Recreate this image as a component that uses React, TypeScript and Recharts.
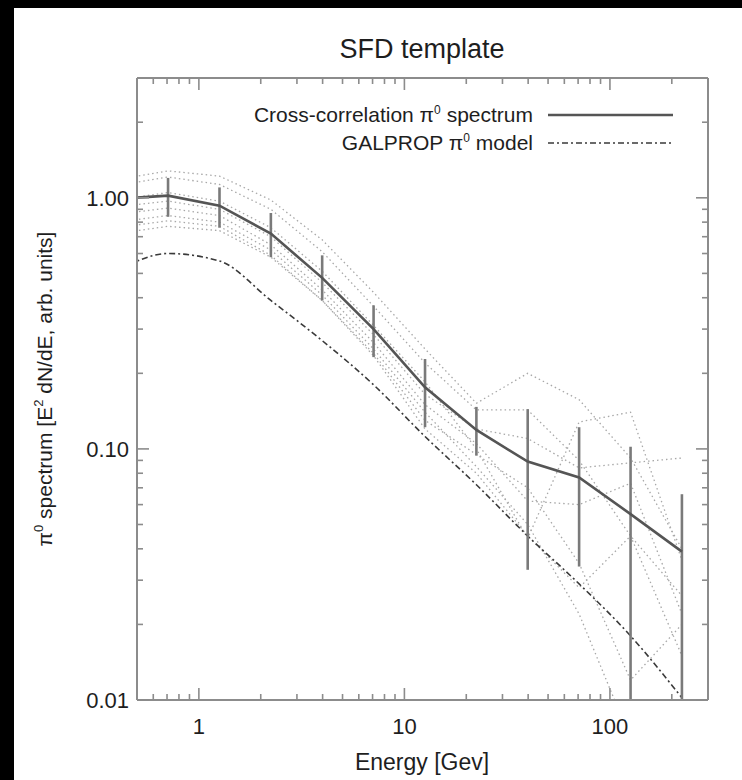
import React from 'react';
import { LineChart, Line, XAxis, YAxis, ErrorBar } from 'recharts';

// ---- data (energy in GeV, log-spaced bins) ----
const energies = [0.398, 0.708, 1.26, 2.24, 3.98, 7.08, 12.6, 22.4, 39.8, 70.8, 126, 224];
const crossCorrelation = [0.99, 1.02, 0.93, 0.72, 0.48, 0.3, 0.176, 0.119, 0.089, 0.077, 0.055, 0.039];
const crossLowBound = [0.99, 0.84, 0.76, 0.58, 0.39, 0.232, 0.122, 0.094, 0.033, 0.034, 0.01, 0.01];
const crossHighBound = [0.99, 1.2, 1.1, 0.87, 0.59, 0.373, 0.228, 0.147, 0.144, 0.122, 0.102, 0.066];
const galpropModel = [0.51, 0.6, 0.56, 0.39, 0.27, 0.18, 0.112, 0.072, 0.045, 0.029, 0.018, 0.0102];

const region1 = [1.18, 1.28, 1.22, 0.98, 0.68, 0.42, 0.25, 0.152, 0.2, 0.157, 0.092, 0.04];
const region2 = [1.12, 1.21, 1.13, 0.9, 0.61, 0.37, 0.22, 0.143, 0.143, 0.09, 0.045, 0.026];
const region3 = [0.98, 1.05, 0.97, 0.76, 0.51, 0.31, 0.185, 0.1, 0.044, 0.128, 0.14, 0.036];
const region4 = [0.92, 0.97, 0.9, 0.7, 0.46, 0.285, 0.165, 0.12, 0.11, 0.084, 0.088, 0.092];
const region5 = [0.86, 0.91, 0.85, 0.65, 0.43, 0.265, 0.15, 0.105, 0.062, 0.06, 0.073, 0.022];
const region6 = [0.8, 0.85, 0.8, 0.62, 0.41, 0.25, 0.14, 0.085, 0.05, 0.022, 0.007, 0.006];
const region7 = [0.76, 0.81, 0.77, 0.59, 0.39, 0.24, 0.13, 0.095, 0.07, 0.035, 0.012, 0.02];
const region8 = [0.72, 0.77, 0.74, 0.58, 0.39, 0.235, 0.12, 0.08, 0.045, 0.028, 0.045, 0.015];
const regions = [region1, region2, region3, region4, region5, region6, region7, region8];

const xMajorTicks = [1, 10, 100];
const xMajorLabels = ['1', '10', '100'];
const xMinorTicks = [0.6, 0.7, 0.8, 0.9, 2, 3, 4, 5, 6, 7, 8, 9, 20, 30, 40, 50, 60, 70, 80, 90, 200];
const yMajorTicks = [0.01, 0.1, 1];
const yMajorLabels = ['0.01', '0.10', '1.00'];
const yMinorTicks = [0.02, 0.03, 0.04, 0.05, 0.06, 0.07, 0.08, 0.09, 0.2, 0.3, 0.4, 0.5, 0.6, 0.7, 0.8, 0.9, 2];

const xTicks = [...xMajorTicks, ...xMinorTicks].sort((a, b) => a - b);
const yTicks = [...yMajorTicks, ...yMinorTicks].sort((a, b) => a - b);

const data = energies.map((e, i) => {
  const row: Record<string, any> = {
    energy: e,
    cross: crossCorrelation[i],
    err: [crossCorrelation[i] - crossLowBound[i], crossHighBound[i] - crossCorrelation[i]],
    galprop: galpropModel[i],
  };
  regions.forEach((r, k) => {
    row['r' + k] = r[i];
  });
  return row;
});

// ---- styles ----
const FONT = '"Liberation Sans", Arial, Helvetica, sans-serif';
const AXIS = '#8c8c8c';
const TEXT = '#1e1e1e';
const MAJOR_LEN = 12;
const MINOR_LEN = 6;

const BottomTick = (p: any) => {
  const v = p.payload.value;
  const idx = xMajorTicks.indexOf(v);
  const len = idx >= 0 ? MAJOR_LEN : MINOR_LEN;
  return (
    <g>
      <line x1={p.x} x2={p.x} y1={p.y} y2={p.y - len} stroke={AXIS} strokeWidth={1.6} />
      {idx >= 0 && (
        <text x={p.x} y={p.y + 34} textAnchor="middle" fontFamily={FONT} fontSize={22} fill={TEXT}>
          {xMajorLabels[idx]}
        </text>
      )}
    </g>
  );
};

const TopTick = (p: any) => {
  const v = p.payload.value;
  const len = xMajorTicks.indexOf(v) >= 0 ? MAJOR_LEN : MINOR_LEN;
  return <line x1={p.x} x2={p.x} y1={p.y} y2={p.y + len} stroke={AXIS} strokeWidth={1.6} />;
};

const LeftTick = (p: any) => {
  const v = p.payload.value;
  const idx = yMajorTicks.indexOf(v);
  const len = idx >= 0 ? MAJOR_LEN : MINOR_LEN;
  return (
    <g>
      <line x1={p.x} x2={p.x + len} y1={p.y} y2={p.y} stroke={AXIS} strokeWidth={1.6} />
      {idx >= 0 && (
        <text x={p.x - 8} y={p.y + 8} textAnchor="end" fontFamily={FONT} fontSize={22} fill={TEXT}>
          {yMajorLabels[idx]}
        </text>
      )}
    </g>
  );
};

const RightTick = (p: any) => {
  const v = p.payload.value;
  const len = yMajorTicks.indexOf(v) >= 0 ? MAJOR_LEN : MINOR_LEN;
  return <line x1={p.x} x2={p.x - len} y1={p.y} y2={p.y} stroke={AXIS} strokeWidth={1.6} />;
};

const axisLine = { stroke: AXIS, strokeWidth: 2 };

export default function App() {
  return (
    <div style={{ position: 'relative', width: 742, height: 780, background: '#000', overflow: 'hidden' }}>
      <style>{'body{margin:0;}'}</style>
      <div style={{ position: 'absolute', left: 14, top: 8, right: 0, bottom: 0, background: '#fff' }} />
      <div style={{ position: 'absolute', left: 0, top: 0 }}>
        <LineChart width={742} height={780} data={data} margin={{ top: 77, right: 33, bottom: 79, left: 0 }}>
          <XAxis
            xAxisId="b"
            orientation="bottom"
            dataKey="energy"
            type="number"
            scale="log"
            domain={[0.5, 300]}
            allowDataOverflow
            ticks={xTicks}
            interval={0}
            tickLine={false}
            tickSize={0}
            tickMargin={0}
            height={1}
            axisLine={axisLine}
            tick={(p: any) => <BottomTick {...p} />}
          />
          <XAxis
            xAxisId="t"
            orientation="top"
            dataKey="energy"
            type="number"
            scale="log"
            domain={[0.5, 300]}
            allowDataOverflow
            ticks={xTicks}
            interval={0}
            tickLine={false}
            tickSize={0}
            tickMargin={0}
            height={1}
            axisLine={axisLine}
            tick={(p: any) => <TopTick {...p} />}
          />
          <YAxis
            yAxisId="l"
            type="number"
            scale="log"
            domain={[0.01, 3]}
            allowDataOverflow
            ticks={yTicks}
            interval={0}
            tickLine={false}
            tickSize={0}
            tickMargin={0}
            width={137}
            axisLine={axisLine}
            tick={(p: any) => <LeftTick {...p} />}
          />
          <YAxis
            yAxisId="r"
            orientation="right"
            type="number"
            scale="log"
            domain={[0.01, 3]}
            allowDataOverflow
            ticks={yTicks}
            interval={0}
            tickLine={false}
            tickSize={0}
            tickMargin={0}
            width={1}
            axisLine={axisLine}
            tick={(p: any) => <RightTick {...p} />}
          />
          {regions.map((_, k) => (
            <Line
              key={'r' + k}
              xAxisId="b"
              yAxisId="l"
              type="linear"
              dataKey={'r' + k}
              stroke="#a8a8a8"
              strokeWidth={1.3}
              strokeDasharray="1.5 3"
              dot={false}
              activeDot={false}
              isAnimationActive={false}
            />
          ))}
          <Line
            xAxisId="b"
            yAxisId="l"
            type="monotone"
            dataKey="galprop"
            stroke="#3a3a3a"
            strokeWidth={1.6}
            strokeDasharray="6 3 2 3"
            dot={false}
            activeDot={false}
            isAnimationActive={false}
          />
          <Line
            xAxisId="b"
            yAxisId="l"
            type="linear"
            dataKey="cross"
            stroke="#555"
            strokeWidth={2.6}
            dot={false}
            activeDot={false}
            isAnimationActive={false}
          >
            <ErrorBar dataKey="err" width={0} stroke="#7a7a7a" strokeWidth={2.6} direction="y" />
          </Line>
        </LineChart>
      </div>
      <svg
        width={742}
        height={780}
        style={{ position: 'absolute', left: 0, top: 0, pointerEvents: 'none' }}
        fontFamily={FONT}
      >
        <text x={422} y={58} textAnchor="middle" fontSize={27} fill={TEXT}>
          SFD template
        </text>
        <text x={533} y={122} textAnchor="end" fontSize={21} fill={TEXT}>
          Cross-correlation π<tspan dy={-8} fontSize={12}>0</tspan>
          <tspan dy={8}> spectrum</tspan>
        </text>
        <line x1={548} x2={673} y1={115} y2={115} stroke="#555" strokeWidth={2.6} />
        <text x={533} y={150} textAnchor="end" fontSize={21} fill={TEXT}>
          GALPROP π<tspan dy={-8} fontSize={12}>0</tspan>
          <tspan dy={8}> model</tspan>
        </text>
        <line x1={548} x2={673} y1={143} y2={143} stroke="#3a3a3a" strokeWidth={1.6} strokeDasharray="6 3 2 3" />
        <text transform="translate(52,389) rotate(-90)" textAnchor="middle" fontSize={21} fill={TEXT}>
          π<tspan dy={-9} fontSize={13}>0</tspan>
          <tspan dy={9}> spectrum [E</tspan>
          <tspan dy={-9} fontSize={13}>2</tspan>
          <tspan dy={9}> dN/dE, arb. units]</tspan>
        </text>
        <text x={422} y={770} textAnchor="middle" fontSize={23} fill={TEXT}>
          Energy [Gev]
        </text>
      </svg>
    </div>
  );
}
